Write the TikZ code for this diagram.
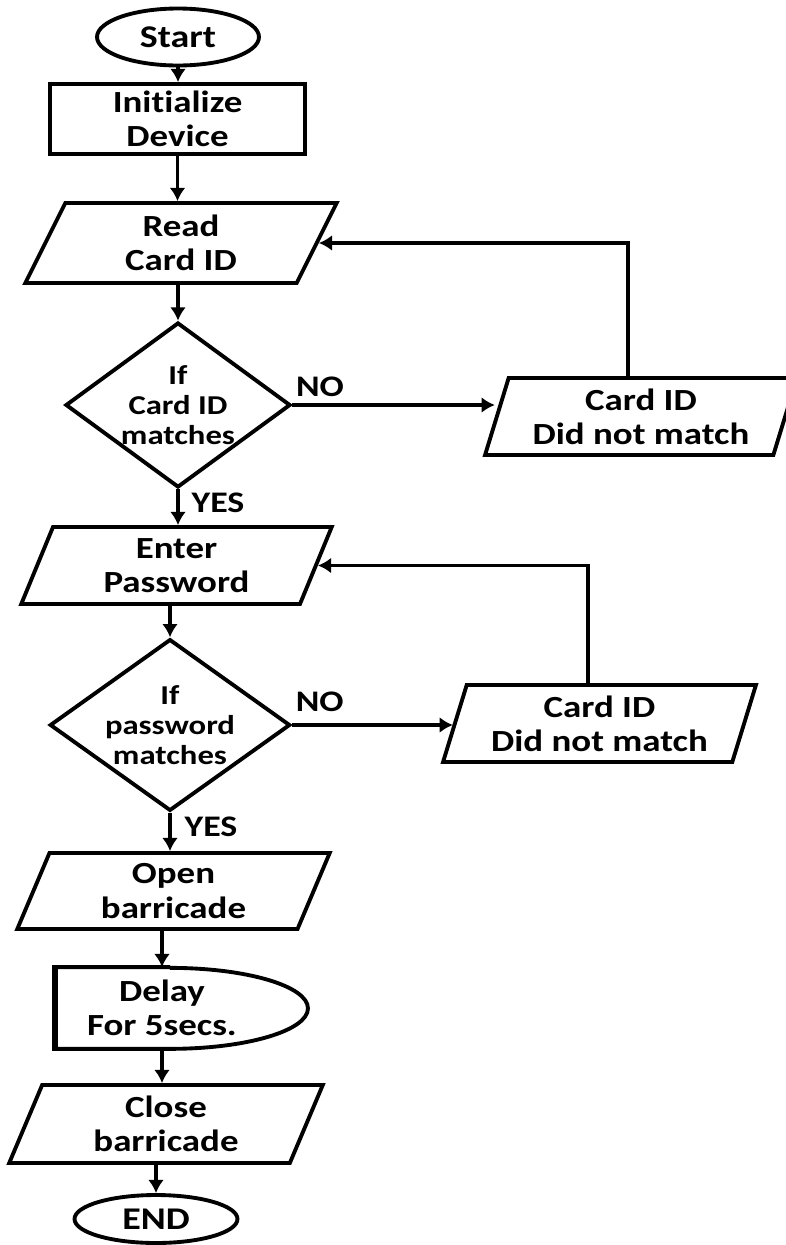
\documentclass[tikz,border=0pt]{standalone}
\usepackage{fontspec}
\setmainfont{Carlito}[FakeStretch=1.2, Ligatures=NoCommon]
\usetikzlibrary{shapes.geometric, arrows.meta, positioning}

\tikzset{
  flowline/.style={line width=2.2pt},
  flowarrow/.style={flowline, -{Latex[length=7.5pt,width=9pt]}},
  terminal/.style={ellipse, draw, flowline, inner sep=0pt, font=\bfseries\fontsize{18}{20}\selectfont},
  process/.style={rectangle, draw, flowline, align=center, inner sep=0pt, font=\bfseries\fontsize{17.5}{19.5}\selectfont},
  io/.style={trapezium, trapezium left angle=71, trapezium right angle=109, trapezium stretches=true, draw, flowline, align=center, inner sep=0pt, font=\bfseries\fontsize{17.5}{19.5}\selectfont},
  decision/.style={diamond, draw, flowline, aspect=1.4, align=center, inner sep=0pt, font=\bfseries\fontsize{15.5}{17}\selectfont},
  delaytext/.style={align=center, inner sep=0pt, minimum height=1.62cm, font=\bfseries\fontsize{17.5}{19.5}\selectfont},
  answer/.style={inner sep=1pt, font=\bfseries\fontsize{17}{19}\selectfont}
}

\begin{document}
\begin{tikzpicture}[x=0.02cm, y=-0.02cm]
\useasboundingbox (0,0) rectangle (786,1245);

% main column
\node[terminal, minimum width=3.24cm, minimum height=1.14cm] (start) at (178,37) {Start};
\node[process, minimum width=5.1cm, minimum height=1.4cm] (init) at (177.5,119) {Initialize\\Device};
\node[io, minimum width=6.28cm, minimum height=1.6cm] (read) at (181,243) {Read\\Card ID};
\node[decision, minimum width=4.5cm, minimum height=3.3cm] (cardcheck) at (178,405) {If\\Card ID\\matches};
\node[io, minimum width=6.22cm, minimum height=1.54cm] (enter) at (176.5,565.5) {Enter\\Password};
\node[decision, minimum width=4.44cm, minimum height=3.32cm] (passcheck) at (170,725) {If\\password\\matches};
\node[io, minimum width=6.26cm, minimum height=1.52cm] (open) at (173.5,891) {Open\\barricade};
\node[delaytext] (delay) at (162,1008) {Delay\\For 5secs.};
\node[io, minimum width=6.28cm, minimum height=1.56cm] (close) at (166,1124) {Close\\barricade};
\node[terminal, minimum width=3.26cm, minimum height=0.96cm] (end) at (156,1219) {END};

% failure boxes
\node[io, minimum width=6.24cm, minimum height=1.54cm] (idfail) at (641,416.5) {Card ID\\Did not match};
\node[io, minimum width=6.26cm, minimum height=1.54cm] (passfail) at (599.5,723.5) {Card ID\\Did not match};

% delay shape
\draw[flowline] ([xshift=0.16cm]delay.north) -- ([xshift=-2.14cm]delay.north) -- ([xshift=-2.14cm]delay.south) -- ([xshift=0.16cm]delay.south) arc[start angle=-90, end angle=90, x radius=2.76cm, y radius=0.81cm];
\draw[line width=3.6pt] ([xshift=-2.14cm, yshift=1.1pt]delay.north) -- ([xshift=-2.14cm, yshift=-1.1pt]delay.south);

% flow
\draw[flowarrow] (start.south) -- (start.south |- init.north);
\draw[flowarrow] (init.south) -- (init.south |- read.north);
\draw[flowarrow] (read.south -| cardcheck.north) -- (cardcheck.north);
\draw[flowarrow] (cardcheck.south) -- (cardcheck.south |- enter.north)
  node[answer, pos=0, anchor=north west, xshift=0.2cm] {YES};
\draw[flowarrow] (enter.south -| passcheck.north) -- (passcheck.north);
\draw[flowarrow] (passcheck.south) -- (passcheck.south |- open.north)
  node[answer, pos=0, anchor=north west, xshift=0.22cm] {YES};
\draw[flowarrow] (open.south -| delay.north) -- (delay.north);
\draw[flowarrow] (delay.south) -- (delay.south |- close.north);
\draw[flowarrow] (close.south -| end.north) -- (end.north);

% NO branches and loops
\draw[flowarrow] (cardcheck.east) -- (cardcheck.east -| idfail.west)
  node[answer, pos=0, anchor=south west, yshift=0.1cm] {NO};
\draw[flowarrow] (passcheck.east) -- (passcheck.east -| passfail.west)
  node[answer, pos=0, anchor=south west, yshift=0.2cm] {NO};
\draw[flowarrow] ([xshift=-0.26cm]idfail.north) |- (read.east);
\draw[flowarrow] ([xshift=-0.23cm]passfail.north) |- (enter.east);
\end{tikzpicture}
\end{document}
